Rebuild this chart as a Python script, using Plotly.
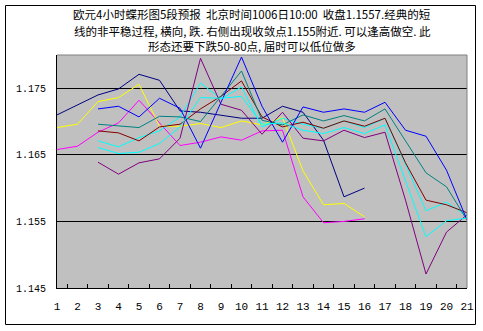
import plotly.graph_objects as go

categories = [str(i) for i in range(1, 22)]
N = None

navy = [1.1710, 1.1725, 1.1740, 1.1749, 1.1771, 1.1762, 1.1716, 1.1714, 1.1710, 1.1705,
        1.1705, 1.1723, 1.1714, 1.1672, 1.1587, 1.1600, N, N, N, N, N]
magenta = [1.1658, 1.1663, 1.1684, 1.1698, 1.1732, 1.1698, 1.1664, 1.1669, 1.1677, 1.1672,
           1.1686, 1.1687, 1.1587, 1.1548, 1.1550, 1.1554, N, N, N, N, N]
yellow = [1.1691, 1.1696, 1.1730, 1.1736, 1.1756, 1.1693, 1.1693, 1.1697, 1.1691, 1.1701,
          1.1695, 1.1706, 1.1626, 1.1575, 1.1577, 1.1557, N, N, N, N, N]
cyan_a = [N, N, 1.1671, 1.1662, 1.1676, 1.1686, 1.1707, 1.1758, 1.1734, 1.1752,
          1.1692, 1.1705, 1.1696, 1.1690, 1.1701, 1.1691, 1.1705, 1.1636, 1.1566, 1.1579, 1.1558]
purple = [N, N, 1.1639, 1.1621, 1.1638, 1.1644, 1.1675, 1.1795, 1.1726, 1.1717,
          1.1681, 1.1714, 1.1675, 1.1671, 1.1687, 1.1676, 1.1684, 1.1582, 1.1471, 1.1534, 1.1560]
darkred = [N, N, 1.1686, 1.1683, 1.1671, 1.1692, 1.1696, 1.1719, 1.1738, 1.1761,
           1.1707, 1.1692, 1.1699, 1.1690, 1.1701, 1.1693, 1.1705, 1.1638, 1.1582, 1.1575, 1.1563]
teal = [N, N, 1.1696, 1.1693, 1.1691, 1.1708, 1.1707, 1.1700, 1.1738, 1.1776,
        1.1702, 1.1695, 1.1710, 1.1701, 1.1709, 1.1701, 1.1719, 1.1671, 1.1623, 1.1602, 1.1552]
blue = [N, N, 1.1719, 1.1723, 1.1707, 1.1735, 1.1720, 1.1660, 1.1729, 1.1797,
        1.1723, 1.1669, 1.1722, 1.1714, 1.1719, 1.1714, 1.1729, 1.1687, 1.1678, 1.1627, 1.1552]
cyan_b = [N, N, 1.1661, 1.1652, 1.1654, 1.1667, 1.1692, 1.1736, 1.1735, 1.1738,
          1.1696, 1.1698, 1.1687, 1.1682, 1.1691, 1.1682, 1.1695, 1.1611, 1.1527, 1.1551, 1.1555]

series = [
    ("1", navy, "#000080"),
    ("2", magenta, "#FF00FF"),
    ("3", yellow, "#FFFF00"),
    ("4", cyan_a, "#00FFFF"),
    ("5", purple, "#800080"),
    ("6", darkred, "#800000"),
    ("7", teal, "#008080"),
    ("8", blue, "#0000FF"),
    ("9", cyan_b, "#00FFFF"),
]

y_ticks = [1.145, 1.155, 1.165, 1.175]
y_ticktext = ["1.145", "1.155", "1.165", "1.175"]

title_lines = [
    "欧元4小时蝶形图5段预报  北京时间1006日10:00  收盘1.1557.经典的短",
    "线的非平稳过程, 横向, 跌. 右侧出现收敛点1.155附近. 可以逢高做空. 此",
    "形态还要下跌50-80点, 届时可以低位做多",
]

fig = go.Figure()
for name, vals, color in series:
    fig.add_trace(go.Scatter(x=categories, y=vals, mode="lines", name=name,
                             line=dict(color=color, width=1), connectgaps=False,
                             showlegend=False, hoverinfo="skip"))

L, R, T, B = 57, 16, 55, 43
W, H = 483, 331
pw, ph = W - L - R, H - T - B

def px_x(p):
    return (p - L) / pw

def px_y(p):
    return (H - B - p) / ph

annotations = []
for txt, ypx in zip(title_lines, [14.5, 31, 46]):
    annotations.append(dict(text=txt, x=px_x(252), y=px_y(ypx), xref="paper", yref="paper",
                            xanchor="center", yanchor="middle", showarrow=False,
                            font=dict(family="Noto Sans CJK SC", size=11.5, color="black")))

shapes = [
    dict(type="rect", xref="paper", yref="paper", x0=px_x(5.5), x1=px_x(475.5),
         y0=px_y(324.5), y1=px_y(5.5), line=dict(color="black", width=1), layer="above"),
    dict(type="line", xref="paper", yref="paper", x0=0, x1=1, y0=1, y1=1,
         line=dict(color="#808080", width=1), layer="above"),
    dict(type="line", xref="paper", yref="paper", x0=1, x1=1, y0=0, y1=1,
         line=dict(color="#808080", width=1), layer="above"),
]

fig.update_layout(
    width=W, height=H,
    margin=dict(l=L, r=R, t=T, b=B, pad=0),
    paper_bgcolor="white", plot_bgcolor="#C0C0C0",
    annotations=annotations, shapes=shapes,
    showlegend=False,
)
fig.update_xaxes(type="category", categoryorder="array", categoryarray=categories,
                 tickson="boundaries", ticks="inside", ticklen=4, tickcolor="black",
                 showline=True, linecolor="black", linewidth=1, showgrid=False,
                 tickangle=0, automargin=False,
                 tickfont=dict(family="Liberation Mono", size=11, color="black"),
                 ticklabelstandoff=8)
fig.update_yaxes(range=[1.145, 1.180], tickvals=y_ticks, ticktext=y_ticktext,
                 showgrid=True, gridcolor="black", gridwidth=1, zeroline=False,
                 showline=True, linecolor="black", linewidth=1, ticks="",
                 automargin=False,
                 tickfont=dict(family="Liberation Mono", size=10, color="black"),
                 ticklabelstandoff=8)

fig.write_html("out.html")
